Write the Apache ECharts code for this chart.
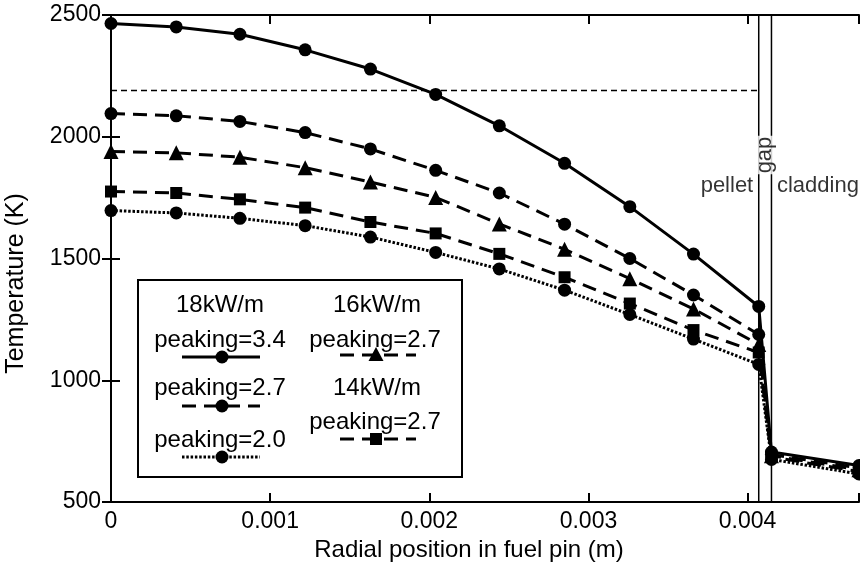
<!DOCTYPE html>
<html><head><meta charset="utf-8">
<script src="https://cdn.jsdelivr.net/npm/echarts@6/dist/echarts.min.js"></script>
<style>html,body{margin:0;padding:0;background:#fff}#c{width:860px;height:569px}</style>
</head><body><div id="c"></div>
<script>
// ---- data ----
const radialPos = [0, 0.00041, 0.00081, 0.00122, 0.00163, 0.00204, 0.00244, 0.00285, 0.00326, 0.00366, 0.00407, 0.00415, 0.0047];
const t18p34 = [2465, 2451, 2421, 2357, 2278, 2174, 2045, 1891, 1713, 1518, 1303, 705, 650];
const t18p27 = [2095, 2086, 2063, 2017, 1950, 1862, 1769, 1641, 1500, 1350, 1188, 695, 640];
const t16p27 = [1939, 1934, 1916, 1873, 1814, 1751, 1642, 1538, 1417, 1293, 1147, 690, 632];
const t14p27 = [1775, 1769, 1743, 1709, 1650, 1603, 1519, 1423, 1315, 1206, 1114, 685, 625];
const t18p20 = [1697, 1687, 1665, 1635, 1588, 1525, 1457, 1370, 1270, 1169, 1065, 675, 615];
const seriesNames = ['18kW/m peaking=3.4', '18kW/m peaking=2.7', '16kW/m peaking=2.7', '14kW/m peaking=2.7', '18kW/m peaking=2.0'];
const limitTemp = 2190;
const pelletRadius = 0.00407;
const claddingInner = 0.00415;
const xTickLabels = ['0', '0.001', '0.002', '0.003', '0.004'];
const yTickLabels = ['500', '1000', '1500', '2000', '2500'];
const legendTexts = {
  left: ['18kW/m', 'peaking=3.4', 'peaking=2.7', 'peaking=2.0'],
  right: ['16kW/m', 'peaking=2.7', '14kW/m', 'peaking=2.7']
};
const regionLabels = ['pellet', 'gap', 'cladding'];

// ---- chart ----
const FONT = '"Liberation Sans", Arial, Helvetica, sans-serif';
const pair = arr => radialPos.map((x, i) => [x, arr[i]]);
const chart = echarts.init(document.getElementById('c'), null, {renderer: 'canvas'});

function curve(name, arr, symbol, size, dash, width) {
  return {
    name, type: 'line', data: pair(arr), symbol, symbolSize: size, clip: false,
    lineStyle: {color: '#000', width: width, type: dash},
    itemStyle: {color: '#000'}, z: 3
  };
}
const axisCommon = {
  axisLine: {show: true, lineStyle: {color: '#000', width: 2}},
  axisTick: {show: true, inside: true, length: 9, lineStyle: {color: '#000', width: 2}},
  splitLine: {show: false}
};
const option = {
  animation: false,
  backgroundColor: '#fff',
  grid: {left: 111, right: 1, top: 15, bottom: 67, containLabel: false, outerBoundsMode: 'none'},
  xAxis: [
    Object.assign({
      type: 'value', min: 0, max: 0.0047, interval: 0.001, position: 'bottom',
      name: 'Radial position in fuel pin (m)', nameLocation: 'middle', nameGap: 36,
      nameTextStyle: {fontSize: 24, fontFamily: FONT, color: '#000', padding: [0, 32, 0, 0]},
      axisLabel: {
        fontSize: 23, fontFamily: FONT, color: '#000', margin: 8,
        formatter: v => {
          const k = Math.round(v * 1000);
          return Math.abs(v * 1000 - k) < 1e-6 && xTickLabels[k] !== undefined ? xTickLabels[k] : '';
        }
      }
    }, axisCommon),
    Object.assign({
      type: 'value', min: 0, max: 0.0047, interval: 0.001, position: 'top',
      axisLabel: {show: false}
    }, axisCommon)
  ],
  yAxis: [
    Object.assign({
      type: 'value', min: 500, max: 2500, interval: 500, position: 'left',
      name: 'Temperature (K)', nameLocation: 'middle', nameGap: 82, nameRotate: 90,
      nameTextStyle: {fontSize: 25, fontFamily: FONT, color: '#000', padding: [0, 50, 0, 0]},
      axisLabel: {
        fontSize: 23, fontFamily: FONT, color: '#000', margin: 10,
        formatter: v => yTickLabels[Math.round((v - 500) / 500)] || ''
      }
    }, axisCommon),
    Object.assign({
      type: 'value', min: 500, max: 2500, interval: 500, position: 'right',
      axisLabel: {show: false}
    }, axisCommon)
  ],
  series: [
    // limit line
    {type: 'line', data: [[0, limitTemp], [pelletRadius, limitTemp]], symbol: 'none', silent: true,
      lineStyle: {color: '#000', width: 1.5, type: [6, 4]}, z: 2},
    // region boundaries
    {type: 'line', data: [[pelletRadius, 500], [pelletRadius, 2500]], symbol: 'none', silent: true,
      lineStyle: {color: '#000', width: 1.5}, z: 2},
    {type: 'line', data: [[claddingInner, 500], [claddingInner, 2500]], symbol: 'none', silent: true,
      lineStyle: {color: '#000', width: 1.5}, z: 2},
    curve(seriesNames[0], t18p34, 'circle', 13, 'solid', 3),
    curve(seriesNames[1], t18p27, 'circle', 13, [14, 8], 3),
    curve(seriesNames[2], t16p27, 'triangle', 15, [14, 8], 3),
    curve(seriesNames[3], t14p27, 'rect', 12, [14, 8], 3),
    curve(seriesNames[4], t18p20, 'circle', 13, [2.5, 1.8], 3),
    // region labels
    {type: 'scatter', symbolSize: 1, itemStyle: {color: 'rgba(0,0,0,0)'}, z: 10, silent: true,
      data: [
        {value: [pelletRadius, 1800], label: {show: true, formatter: regionLabels[0], position: 'left', distance: 5}},
        {value: [(pelletRadius + claddingInner) / 2, 1925], label: {show: true, formatter: regionLabels[1], position: 'inside', rotate: 90, backgroundColor: '#fff', padding: [2, 1]}},
        {value: [claddingInner, 1800], label: {show: true, formatter: regionLabels[2], position: 'right', distance: 5}}
      ],
      label: {fontSize: 22, fontFamily: FONT, color: '#000'}
    }
  ],
  graphic: [{
    type: 'group', z: 100,
    children: (function () {
      const ch = [];
      const txt = (s, x, y) => ch.push({type: 'text', style: {text: s, x, y, align: 'center', verticalAlign: 'middle', fontSize: 24, fontFamily: FONT, fill: '#000'}});
      const ln = (x1, x2, y, dash, w) => ch.push({type: 'line', shape: {x1, y1: y, x2, y2: y}, style: {stroke: '#000', lineWidth: w, lineDash: dash}});
      const circ = (cx, cy) => ch.push({type: 'circle', shape: {cx, cy, r: 6.5}, style: {fill: '#000'}});
      const tri = (cx, cy) => ch.push({type: 'polygon', shape: {points: [[cx, cy - 8], [cx - 7.5, cy + 6], [cx + 7.5, cy + 6]]}, style: {fill: '#000'}});
      const sq = (cx, cy) => ch.push({type: 'rect', shape: {x: cx - 6, y: cy - 6, width: 12, height: 12}, style: {fill: '#000'}});
      ch.push({type: 'rect', shape: {x: 138, y: 280, width: 324, height: 197}, style: {fill: '#fff', stroke: '#000', lineWidth: 2}});
      // left column
      txt(legendTexts.left[0], 220, 305);
      txt(legendTexts.left[1], 220, 340);
      ln(182, 260, 357, null, 3); circ(222, 357);
      txt(legendTexts.left[2], 220, 388);
      ln(182, 260, 406, [14, 8], 3); circ(222, 406);
      txt(legendTexts.left[3], 220, 440);
      ln(182, 260, 457, [2.5, 1.8], 3); circ(222, 457);
      // right column
      txt(legendTexts.right[0], 377, 305);
      txt(legendTexts.right[1], 375, 340);
      ln(340, 416, 355, [14, 8], 3); tri(376, 355);
      txt(legendTexts.right[2], 377, 388);
      txt(legendTexts.right[3], 375, 422);
      ln(340, 416, 439, [14, 8], 3); sq(376, 439);
      return ch;
    })()
  }]
};
chart.setOption(option);
</script>
</body></html>
